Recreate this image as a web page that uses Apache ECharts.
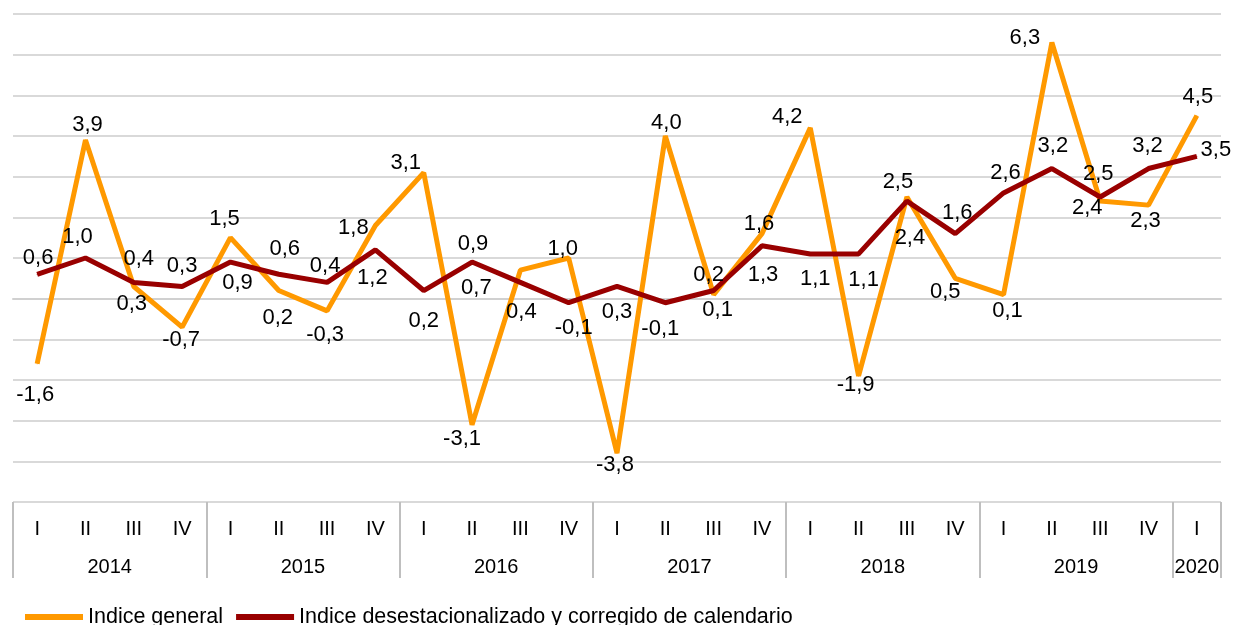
<!DOCTYPE html>
<html>
<head>
<meta charset="utf-8">
<script src="https://cdn.jsdelivr.net/npm/echarts@6/dist/echarts.min.js"></script>
<style>
  html, body { margin: 0; padding: 0; background: #fff; }
  #main { width: 1236px; height: 625px; }
</style>
</head>
<body>
<div id="main"></div>
<script>
// datos
var quarters = ['I', 'II', 'III', 'IV', 'I', 'II', 'III', 'IV', 'I', 'II', 'III', 'IV',
  'I', 'II', 'III', 'IV', 'I', 'II', 'III', 'IV', 'I', 'II', 'III', 'IV', 'I'];
var years = ['2014', '2015', '2016', '2017', '2018', '2019', '2020'];
var quartersPerYear = [4, 4, 4, 4, 4, 4, 1];

var general = [-1.6, 3.9, 0.3, -0.7, 1.5, 0.2, -0.3, 1.8, 3.1, -3.1, 0.7, 1.0,
  -3.8, 4.0, 0.1, 1.6, 4.2, -1.9, 2.5, 0.5, 0.1, 6.3, 2.4, 2.3, 4.5];
var desest = [0.6, 1.0, 0.4, 0.3, 0.9, 0.6, 0.4, 1.2, 0.2, 0.9, 0.4, -0.1,
  0.3, -0.1, 0.2, 1.3, 1.1, 1.1, 2.4, 1.6, 2.6, 3.2, 2.5, 3.2, 3.5];

// posicion de etiquetas (desplazamiento respecto al punto, px)
var offGeneral = [[-2, 31], [2, -15], [-2, 17], [-1, 13], [-6, -19], [-1, 27], [-2, 24], [-22, 2],
  [-18, -10], [-10, 14], [-44, 18], [-6, -9], [-2, 12], [1, -13], [4, 15], [-3, -10],
  [-23, -11], [-3, 9], [-9, -15], [-10, 14], [4, 16], [-27, -5], [-13, 7], [-3, 16], [1, -19]];
var offDesest = [[1, -16], [-8, -21], [5, -23], [0, -21], [7, 21], [6, -25], [-2, -16], [-3, 28],
  [0, 30], [1, -18], [1, 30], [5, 25], [0, 25], [-5, 26], [-5, -16], [1, 29],
  [5, 25], [5, 26], [3, 37], [2, -21], [2, -20], [1, -23], [-2, -23], [-1, -23], [19, -6]];

// eje de años: mitades de trimestre, etiqueta en el centro de cada año
var yearSlots = [];
var yearBounds = [0];
var pos = 0;
for (var i = 0; i < years.length; i++) {
  pos += quartersPerYear[i] * 2;
  yearBounds.push(pos);
}
for (var k = 0; k <= pos; k++) yearSlots.push('');
for (var i = 0; i < years.length; i++) {
  yearSlots[yearBounds[i] + quartersPerYear[i]] = years[i];
}

var splitColors = [];
for (var v = -5; v <= 7; v++) splitColors.push(v === 0 ? '#a6a6a6' : '#d9d9d9');

function fmt(p) { return p.value.toFixed(1).replace('.', ','); }
function items(vals, offs) {
  return vals.map(function (v, i) {
    return { value: v, label: { offset: offs[i] } };
  });
}

var font = 'Liberation Sans, Arial, sans-serif';
var myChart = echarts.init(document.getElementById('main'));
var option = {
  animation: false,
  grid: { left: 13, right: 15, top: 14, bottom: 123 },
  legend: {
    left: 20,
    top: 601,
    icon: 'rect',
    itemWidth: 58,
    itemHeight: 6,
    itemGap: 13,
    textStyle: { fontSize: 21.5, color: '#000', fontFamily: font },
    data: ['Indice general', 'Indice desestacionalizado y corregido de calendario']
  },
  xAxis: [{
    type: 'category',
    data: quarters,
    position: 'bottom',
    axisLine: { show: true, lineStyle: { color: '#d0d0d0', width: 2 } },
    axisTick: { show: false },
    axisLabel: { interval: 0, margin: 17, fontSize: 20, color: '#000', fontFamily: font }
  }, {
    type: 'category',
    data: yearSlots,
    boundaryGap: false,
    position: 'bottom',
    offset: 76,
    axisLine: { show: false },
    axisTick: {
      show: true,
      inside: true,
      length: 76,
      interval: function (idx) { return yearBounds.indexOf(idx) >= 0; },
      lineStyle: { color: '#bfbfbf', width: 2 }
    },
    axisLabel: {
      inside: true,
      margin: 1,
      interval: function (idx, val) { return val !== ''; },
      fontSize: 20, color: '#000', fontFamily: font
    }
  }],
  yAxis: {
    type: 'value',
    min: -5,
    max: 7,
    interval: 1,
    axisLine: { show: false },
    axisTick: { show: false },
    axisLabel: { show: false },
    splitLine: { lineStyle: { color: splitColors, width: 2 } }
  },
  series: [{
    name: 'Indice general',
    type: 'line',
    data: items(general, offGeneral),
    symbol: 'circle',
    symbolSize: 1,
    color: '#ff9900',
    lineStyle: { color: '#ff9900', width: 5 },
    label: { show: true, position: 'inside', formatter: fmt, fontSize: 22, color: '#000', fontFamily: font }
  }, {
    name: 'Indice desestacionalizado y corregido de calendario',
    type: 'line',
    data: items(desest, offDesest),
    symbol: 'circle',
    symbolSize: 1,
    color: '#990000',
    lineStyle: { color: '#990000', width: 5 },
    label: { show: true, position: 'inside', formatter: fmt, fontSize: 22, color: '#000', fontFamily: font }
  }]
};
myChart.setOption(option);
window.onresize = myChart.resize;
</script>
</body>
</html>
